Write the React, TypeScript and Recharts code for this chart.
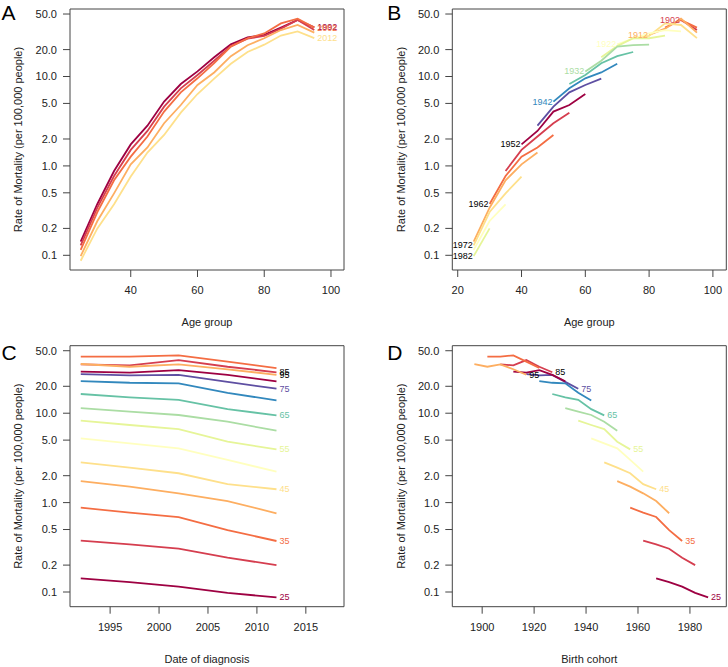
import React from 'react';
import { LineChart, Line, XAxis, YAxis, ReferenceArea, LabelList } from 'recharts';

// Periods of diagnosis, 5-year age groups and the birth cohorts they span
const periods = [1992, 1997, 2002, 2007, 2012];
const ages = [25, 30, 35, 40, 45, 50, 55, 60, 65, 70, 75, 80, 85, 90, 95];
const cohorts = [
  1897, 1902, 1907, 1912, 1917, 1922, 1927, 1932, 1937, 1942,
  1947, 1952, 1957, 1962, 1967, 1972, 1977, 1982, 1987,
];

// Mortality rate per 100,000 for each age group, by period (1992 ... 2012)
const rate25 = [0.142, 0.129, 0.115, 0.098, 0.087];
const rate30 = [0.375, 0.341, 0.305, 0.242, 0.2];
const rate35 = [0.877, 0.771, 0.69, 0.493, 0.372];
const rate40 = [1.74, 1.51, 1.27, 1.04, 0.76];
const rate45 = [2.82, 2.46, 2.13, 1.61, 1.41];
const rate50 = [5.24, 4.6, 4.05, 3.0, 2.22];
const rate55 = [8.24, 7.38, 6.65, 4.8, 3.94];
const rate60 = [11.4, 10.4, 9.55, 8.03, 6.37];
const rate65 = [16.4, 15.0, 14.1, 11.1, 9.46];
const rate70 = [22.9, 21.9, 21.6, 16.9, 13.9];
const rate75 = [27.4, 26.5, 26.8, 22.4, 18.8];
const rate80 = [29.2, 28.4, 30.3, 26.8, 22.7];
const rate85 = [35.2, 34.3, 39.3, 33.1, 28.7];
const rate90 = [42.9, 42.9, 44.4, 37.7, 32.0];
const rate95 = [35.5, 33.1, 35.2, 31.0, 26.9];

const ratesByAge = [
  rate25, rate30, rate35, rate40, rate45, rate50, rate55, rate60,
  rate65, rate70, rate75, rate80, rate85, rate90, rate95,
];

// Spectral palette; series recycle it, labels past its end fall back to black
const spectral = [
  '#9E0142', '#D53E4F', '#F46D43', '#FDAE61', '#FEE08B', '#FFFFBF',
  '#E6F598', '#ABDDA4', '#66C2A5', '#3288BD', '#5E4FA2',
];
const lineColor = (i: number) => spectral[i % spectral.length];
const labelColor = (i: number) => (i < spectral.length ? spectral[i] : '#000000');

const yTicks = [0.1, 0.2, 0.5, 1, 2, 5, 10, 20, 50];
const yDomain: [number, number] = [0.0685, 56.9];

const FONT = '"Liberation Sans", Arial, Helvetica, sans-serif';
const AXIS_COLOR = '#444444';
const TEXT_COLOR = '#222222';

const periodOf = (cohort: number, age: number) => periods.indexOf(cohort + age);

// Tables built for each panel
const dataA = ages.map((age, ai) => {
  const row: Record<string, number | null> = { age };
  periods.forEach((p, pi) => {
    row['p' + p] = ratesByAge[ai][pi];
  });
  return row;
});

const dataB = ages.map((age, ai) => {
  const row: Record<string, number | null> = { age };
  cohorts.forEach((c) => {
    const pi = periodOf(c, age);
    row['c' + c] = pi >= 0 ? ratesByAge[ai][pi] : null;
  });
  return row;
});

const dataC = periods.map((p, pi) => {
  const row: Record<string, number | null> = { period: p };
  ages.forEach((a, ai) => {
    row['a' + a] = ratesByAge[ai][pi];
  });
  return row;
});

const dataD = cohorts.map((c) => {
  const row: Record<string, number | null> = { cohort: c };
  ages.forEach((a, ai) => {
    const pi = periodOf(c, a);
    row['a' + a] = pi >= 0 ? ratesByAge[ai][pi] : null;
  });
  return row;
});

type SeriesDef = {
  key: string;
  color: string;
  label?: { text: string; color: string; index: number; side: 'left' | 'right' };
};

const seriesA: SeriesDef[] = periods.map((p, pi) => ({
  key: 'p' + p,
  color: lineColor(pi),
  label: pi % 2 === 0
    ? { text: String(p), color: labelColor(pi), index: ages.length - 1, side: 'right' }
    : undefined,
}));

const seriesB: SeriesDef[] = cohorts.map((c, ci) => ({
  key: 'c' + c,
  color: lineColor(ci),
  label: ci % 2 === 1
    ? {
        text: String(c),
        color: labelColor(ci),
        index: ages.findIndex((a) => periodOf(c, a) >= 0),
        side: 'left',
      }
    : undefined,
}));

const seriesC: SeriesDef[] = ages.map((a, ai) => ({
  key: 'a' + a,
  color: lineColor(ai),
  label: ai % 2 === 0
    ? { text: String(a), color: labelColor(ai), index: periods.length - 1, side: 'right' }
    : undefined,
}));

const seriesD: SeriesDef[] = ages.map((a, ai) => ({
  key: 'a' + a,
  color: lineColor(ai),
  label: ai % 2 === 0
    ? {
        text: String(a),
        color: labelColor(ai),
        index: cohorts.indexOf(periods[periods.length - 1] - a),
        side: 'right',
      }
    : undefined,
}));

type PanelDef = {
  left: number;
  top: number;
  width: number;
  height: number;
  plotLeft: number;
  plotTop: number;
  plotRight: number;
  plotBottom: number;
  xKey: string;
  xDomain: [number, number];
  xTicks: number[];
  data: Record<string, number | null>[];
  series: SeriesDef[];
  letter: string;
  xTitle: string;
};

const panels: PanelDef[] = [
  {
    left: 0, top: 0, width: 364, height: 333,
    plotLeft: 70, plotTop: 9, plotRight: 344, plotBottom: 270,
    xKey: 'age', xDomain: [21.8, 103.9], xTicks: [40, 60, 80, 100],
    data: dataA, series: seriesA, letter: 'A', xTitle: 'Age group',
  },
  {
    left: 364, top: 0, width: 364, height: 333,
    plotLeft: 88.3, plotTop: 9, plotRight: 362.3, plotBottom: 270,
    xKey: 'age', xDomain: [18.3, 104.2], xTicks: [20, 40, 60, 80, 100],
    data: dataB, series: seriesB, letter: 'B', xTitle: 'Age group',
  },
  {
    left: 0, top: 333, width: 364, height: 334,
    plotLeft: 70, plotTop: 12.7, plotRight: 344, plotBottom: 273.7,
    xKey: 'period', xDomain: [1990.9, 2018.9], xTicks: [1995, 2000, 2005, 2010, 2015],
    data: dataC, series: seriesC, letter: 'C', xTitle: 'Date of diagnosis',
  },
  {
    left: 364, top: 333, width: 364, height: 334,
    plotLeft: 88.3, plotTop: 12.7, plotRight: 362.3, plotBottom: 273.7,
    xKey: 'cohort', xDomain: [1888.5, 1994], xTicks: [1900, 1920, 1940, 1960, 1980],
    data: dataD, series: seriesD, letter: 'D', xTitle: 'Birth cohort',
  },
];

const tickStyle = { fontSize: 11, fill: TEXT_COLOR, fontFamily: FONT };

function endLabel(def: NonNullable<SeriesDef['label']>) {
  return (props: any) => {
    if (props.index !== def.index) return null;
    const x = props.x ?? props.viewBox?.x;
    const y = props.y ?? props.viewBox?.y;
    if (x == null || y == null || Number.isNaN(x) || Number.isNaN(y)) return null;
    const right = def.side === 'right';
    return (
      <text
        x={right ? x + 3 : x - 1}
        y={y}
        textAnchor={right ? 'start' : 'end'}
        dominantBaseline="central"
        fontSize={9}
        fontFamily={FONT}
        fill={def.color}
      >
        {def.text}
      </text>
    );
  };
}

function Panel({ p }: { p: PanelDef }) {
  return (
    <div style={{ position: 'absolute', left: p.left, top: p.top }}>
      <LineChart
        width={p.width}
        height={p.height}
        data={p.data}
        margin={{ top: p.plotTop, right: p.width - p.plotRight, bottom: 0, left: 0 }}
      >
        <XAxis
          type="number"
          dataKey={p.xKey}
          domain={p.xDomain}
          allowDataOverflow
          ticks={p.xTicks}
          interval={0}
          height={p.height - p.plotBottom}
          axisLine={false}
          tickSize={7}
          tickMargin={9}
          tickLine={{ stroke: AXIS_COLOR }}
          tick={tickStyle}
        />
        <YAxis
          type="number"
          scale="log"
          domain={yDomain}
          allowDataOverflow
          ticks={yTicks}
          interval={0}
          width={p.plotLeft}
          axisLine={false}
          tickSize={7}
          tickMargin={6}
          tickLine={{ stroke: AXIS_COLOR }}
          tick={tickStyle}
          tickFormatter={(v: number) => v.toFixed(1)}
        />
        <ReferenceArea
          x1={p.xDomain[0]}
          x2={p.xDomain[1]}
          y1={yDomain[0]}
          y2={yDomain[1]}
          fill="none"
          stroke={AXIS_COLOR}
          strokeWidth={1}
          ifOverflow="visible"
        />
        {p.series.map((s) => (
          <Line
            key={s.key}
            dataKey={s.key}
            type="linear"
            stroke={s.color}
            strokeWidth={1.8}
            dot={false}
            activeDot={false}
            connectNulls={false}
            isAnimationActive={false}
          >
            {s.label ? <LabelList dataKey={s.key} content={endLabel(s.label)} /> : null}
          </Line>
        ))}
      </LineChart>
    </div>
  );
}

const Y_TITLE = 'Rate of Mortality (per 100,000 people)';

function Titles() {
  return (
    <svg
      width={728}
      height={667}
      style={{ position: 'absolute', left: 0, top: 0, pointerEvents: 'none' }}
    >
      {panels.map((p) => {
        const cx = p.left + (p.plotLeft + p.plotRight) / 2;
        const cy = p.top + (p.plotTop + p.plotBottom) / 2;
        const letterX = p.left + (p.plotLeft > 80 ? 23.3 : 1.5);
        return (
          <g key={p.letter} fontFamily={FONT}>
            <text x={letterX} y={p.top + (p.top > 0 ? 26.5 : 20)} fontSize={21} fill="#000">
              {p.letter}
            </text>
            <text
              x={cx}
              y={p.top + p.plotBottom + 56}
              fontSize={11}
              textAnchor="middle"
              fill={TEXT_COLOR}
            >
              {p.xTitle}
            </text>
            <text
              transform={`translate(${p.left + p.plotLeft - 51.7},${cy}) rotate(-90)`}
              fontSize={11}
              textAnchor="middle"
              dominantBaseline="central"
              fill={TEXT_COLOR}
            >
              {Y_TITLE}
            </text>
          </g>
        );
      })}
    </svg>
  );
}

export default function App() {
  return (
    <div
      style={{
        position: 'absolute',
        left: 0,
        top: 0,
        width: 728,
        height: 667,
        background: '#ffffff',
        fontFamily: FONT,
      }}
    >
      {panels.map((p) => (
        <Panel key={p.letter} p={p} />
      ))}
      <Titles />
    </div>
  );
}
